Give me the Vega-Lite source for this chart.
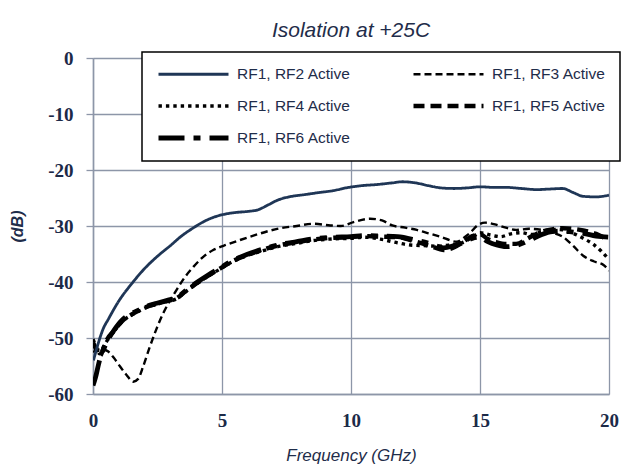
{
  "$schema": "https://vega.github.io/schema/vega-lite/v6.json",
  "autosize": "none",
  "width": 516,
  "height": 336,
  "padding": {"left": 93, "top": 58, "right": 23, "bottom": 74},
  "background": "white",
  "title": {
    "text": "Isolation at +25C",
    "font": "Liberation Sans",
    "fontSize": 21,
    "fontStyle": "italic",
    "fontWeight": "normal",
    "color": "#1f2d4a",
    "anchor": "middle",
    "offset": 8
  },
  "data": {
    "values": [
      {"f": 0.02, "s": "RF1, RF2 Active", "db": -54},
      {"f": 0.2, "s": "RF1, RF2 Active", "db": -51},
      {"f": 0.4, "s": "RF1, RF2 Active", "db": -48.3},
      {"f": 0.6, "s": "RF1, RF2 Active", "db": -46.6},
      {"f": 1.0, "s": "RF1, RF2 Active", "db": -43.4},
      {"f": 1.5, "s": "RF1, RF2 Active", "db": -40.3},
      {"f": 2.0, "s": "RF1, RF2 Active", "db": -37.6},
      {"f": 2.6, "s": "RF1, RF2 Active", "db": -35},
      {"f": 3.0, "s": "RF1, RF2 Active", "db": -33.5},
      {"f": 3.4, "s": "RF1, RF2 Active", "db": -31.9},
      {"f": 3.9, "s": "RF1, RF2 Active", "db": -30.3},
      {"f": 4.3, "s": "RF1, RF2 Active", "db": -29.2},
      {"f": 4.7, "s": "RF1, RF2 Active", "db": -28.4},
      {"f": 5.0, "s": "RF1, RF2 Active", "db": -28.0},
      {"f": 5.5, "s": "RF1, RF2 Active", "db": -27.6},
      {"f": 6.0, "s": "RF1, RF2 Active", "db": -27.4},
      {"f": 6.4, "s": "RF1, RF2 Active", "db": -27.1},
      {"f": 6.8, "s": "RF1, RF2 Active", "db": -26.2},
      {"f": 7.2, "s": "RF1, RF2 Active", "db": -25.3},
      {"f": 7.6, "s": "RF1, RF2 Active", "db": -24.8},
      {"f": 8.2, "s": "RF1, RF2 Active", "db": -24.4},
      {"f": 8.8, "s": "RF1, RF2 Active", "db": -24.0},
      {"f": 9.3, "s": "RF1, RF2 Active", "db": -23.7},
      {"f": 9.8, "s": "RF1, RF2 Active", "db": -23.2},
      {"f": 10.4, "s": "RF1, RF2 Active", "db": -22.8},
      {"f": 11.0, "s": "RF1, RF2 Active", "db": -22.6},
      {"f": 11.6, "s": "RF1, RF2 Active", "db": -22.3},
      {"f": 12.0, "s": "RF1, RF2 Active", "db": -22.1},
      {"f": 12.5, "s": "RF1, RF2 Active", "db": -22.3},
      {"f": 13.0, "s": "RF1, RF2 Active", "db": -22.8},
      {"f": 13.5, "s": "RF1, RF2 Active", "db": -23.2},
      {"f": 14.0, "s": "RF1, RF2 Active", "db": -23.3},
      {"f": 14.5, "s": "RF1, RF2 Active", "db": -23.2},
      {"f": 15.0, "s": "RF1, RF2 Active", "db": -23.0},
      {"f": 15.5, "s": "RF1, RF2 Active", "db": -23.1},
      {"f": 16.0, "s": "RF1, RF2 Active", "db": -23.1},
      {"f": 16.6, "s": "RF1, RF2 Active", "db": -23.3},
      {"f": 17.2, "s": "RF1, RF2 Active", "db": -23.5},
      {"f": 17.7, "s": "RF1, RF2 Active", "db": -23.4},
      {"f": 18.2, "s": "RF1, RF2 Active", "db": -23.3},
      {"f": 18.6, "s": "RF1, RF2 Active", "db": -24.0},
      {"f": 19.0, "s": "RF1, RF2 Active", "db": -24.7},
      {"f": 19.5, "s": "RF1, RF2 Active", "db": -24.8},
      {"f": 20.0, "s": "RF1, RF2 Active", "db": -24.5},

      {"f": 0.0, "s": "RF1, RF3 Active", "db": -52.5},
      {"f": 0.3, "s": "RF1, RF3 Active", "db": -52.0},
      {"f": 0.55, "s": "RF1, RF3 Active", "db": -52.3},
      {"f": 0.8, "s": "RF1, RF3 Active", "db": -53.5},
      {"f": 1.05, "s": "RF1, RF3 Active", "db": -55.1},
      {"f": 1.3, "s": "RF1, RF3 Active", "db": -56.6},
      {"f": 1.56, "s": "RF1, RF3 Active", "db": -57.8},
      {"f": 1.75, "s": "RF1, RF3 Active", "db": -57.3},
      {"f": 1.95, "s": "RF1, RF3 Active", "db": -55.0},
      {"f": 2.2, "s": "RF1, RF3 Active", "db": -51.6},
      {"f": 2.45, "s": "RF1, RF3 Active", "db": -48.5},
      {"f": 2.72, "s": "RF1, RF3 Active", "db": -45.6},
      {"f": 3.0, "s": "RF1, RF3 Active", "db": -43.2},
      {"f": 3.24, "s": "RF1, RF3 Active", "db": -41.4},
      {"f": 3.55, "s": "RF1, RF3 Active", "db": -39.2},
      {"f": 3.89, "s": "RF1, RF3 Active", "db": -37.3},
      {"f": 4.25, "s": "RF1, RF3 Active", "db": -35.6},
      {"f": 4.66, "s": "RF1, RF3 Active", "db": -34.3},
      {"f": 5.2, "s": "RF1, RF3 Active", "db": -33.3},
      {"f": 5.7, "s": "RF1, RF3 Active", "db": -32.5},
      {"f": 6.3, "s": "RF1, RF3 Active", "db": -31.6},
      {"f": 6.8, "s": "RF1, RF3 Active", "db": -30.9},
      {"f": 7.25, "s": "RF1, RF3 Active", "db": -30.4},
      {"f": 7.9, "s": "RF1, RF3 Active", "db": -30.0},
      {"f": 8.54, "s": "RF1, RF3 Active", "db": -29.6},
      {"f": 9.2, "s": "RF1, RF3 Active", "db": -29.9},
      {"f": 9.6, "s": "RF1, RF3 Active", "db": -30.0},
      {"f": 10.1, "s": "RF1, RF3 Active", "db": -29.3},
      {"f": 10.74, "s": "RF1, RF3 Active", "db": -28.7},
      {"f": 11.2, "s": "RF1, RF3 Active", "db": -29.0},
      {"f": 11.6, "s": "RF1, RF3 Active", "db": -29.9},
      {"f": 12.1, "s": "RF1, RF3 Active", "db": -30.3},
      {"f": 12.55, "s": "RF1, RF3 Active", "db": -30.7},
      {"f": 13.0, "s": "RF1, RF3 Active", "db": -31.3},
      {"f": 13.45, "s": "RF1, RF3 Active", "db": -31.9},
      {"f": 14.1, "s": "RF1, RF3 Active", "db": -32.8},
      {"f": 14.4, "s": "RF1, RF3 Active", "db": -32.0},
      {"f": 14.6, "s": "RF1, RF3 Active", "db": -31.3},
      {"f": 14.9, "s": "RF1, RF3 Active", "db": -29.9},
      {"f": 15.2, "s": "RF1, RF3 Active", "db": -29.4},
      {"f": 15.65, "s": "RF1, RF3 Active", "db": -29.8},
      {"f": 16.0, "s": "RF1, RF3 Active", "db": -30.3},
      {"f": 16.4, "s": "RF1, RF3 Active", "db": -30.7},
      {"f": 16.9, "s": "RF1, RF3 Active", "db": -30.5},
      {"f": 17.4, "s": "RF1, RF3 Active", "db": -30.7},
      {"f": 17.8, "s": "RF1, RF3 Active", "db": -31.2},
      {"f": 18.2, "s": "RF1, RF3 Active", "db": -31.9},
      {"f": 18.6, "s": "RF1, RF3 Active", "db": -33.5},
      {"f": 19.0, "s": "RF1, RF3 Active", "db": -35.3},
      {"f": 19.4, "s": "RF1, RF3 Active", "db": -36.3},
      {"f": 19.8, "s": "RF1, RF3 Active", "db": -37.0},
      {"f": 20.0, "s": "RF1, RF3 Active", "db": -38.0},

      {"f": 0.0, "s": "RF1, RF4 Active", "db": -50.2},
      {"f": 0.12, "s": "RF1, RF4 Active", "db": -51.5},
      {"f": 0.25, "s": "RF1, RF4 Active", "db": -52.8},
      {"f": 0.4, "s": "RF1, RF4 Active", "db": -51.6},
      {"f": 0.53, "s": "RF1, RF4 Active", "db": -50.6},
      {"f": 0.8, "s": "RF1, RF4 Active", "db": -48.9},
      {"f": 1.17, "s": "RF1, RF4 Active", "db": -46.9},
      {"f": 1.5, "s": "RF1, RF4 Active", "db": -45.9},
      {"f": 1.82, "s": "RF1, RF4 Active", "db": -45.1},
      {"f": 2.1, "s": "RF1, RF4 Active", "db": -44.5},
      {"f": 2.47, "s": "RF1, RF4 Active", "db": -44.0},
      {"f": 2.85, "s": "RF1, RF4 Active", "db": -43.5},
      {"f": 3.24, "s": "RF1, RF4 Active", "db": -43.0},
      {"f": 3.6, "s": "RF1, RF4 Active", "db": -41.7},
      {"f": 4.02, "s": "RF1, RF4 Active", "db": -40.3},
      {"f": 4.45, "s": "RF1, RF4 Active", "db": -39.0},
      {"f": 4.92, "s": "RF1, RF4 Active", "db": -37.7},
      {"f": 5.4, "s": "RF1, RF4 Active", "db": -36.4},
      {"f": 5.96, "s": "RF1, RF4 Active", "db": -35.3},
      {"f": 6.6, "s": "RF1, RF4 Active", "db": -34.4},
      {"f": 7.25, "s": "RF1, RF4 Active", "db": -33.6},
      {"f": 7.9, "s": "RF1, RF4 Active", "db": -33.1},
      {"f": 8.54, "s": "RF1, RF4 Active", "db": -32.6},
      {"f": 9.3, "s": "RF1, RF4 Active", "db": -32.3},
      {"f": 10.0, "s": "RF1, RF4 Active", "db": -32.2},
      {"f": 10.5, "s": "RF1, RF4 Active", "db": -32.0},
      {"f": 11.2, "s": "RF1, RF4 Active", "db": -32.4},
      {"f": 11.8, "s": "RF1, RF4 Active", "db": -33.0},
      {"f": 12.3, "s": "RF1, RF4 Active", "db": -33.4},
      {"f": 12.8, "s": "RF1, RF4 Active", "db": -33.5},
      {"f": 13.3, "s": "RF1, RF4 Active", "db": -33.6},
      {"f": 13.8, "s": "RF1, RF4 Active", "db": -33.4},
      {"f": 14.3, "s": "RF1, RF4 Active", "db": -33.0},
      {"f": 14.7, "s": "RF1, RF4 Active", "db": -32.0},
      {"f": 15.0, "s": "RF1, RF4 Active", "db": -31.2},
      {"f": 15.4, "s": "RF1, RF4 Active", "db": -31.6},
      {"f": 15.8, "s": "RF1, RF4 Active", "db": -31.9},
      {"f": 16.2, "s": "RF1, RF4 Active", "db": -31.4},
      {"f": 16.6, "s": "RF1, RF4 Active", "db": -31.2},
      {"f": 17.0, "s": "RF1, RF4 Active", "db": -31.5},
      {"f": 17.4, "s": "RF1, RF4 Active", "db": -31.0},
      {"f": 17.8, "s": "RF1, RF4 Active", "db": -30.6},
      {"f": 18.2, "s": "RF1, RF4 Active", "db": -30.7},
      {"f": 18.6, "s": "RF1, RF4 Active", "db": -31.3},
      {"f": 19.0, "s": "RF1, RF4 Active", "db": -32.2},
      {"f": 19.4, "s": "RF1, RF4 Active", "db": -33.3},
      {"f": 19.7, "s": "RF1, RF4 Active", "db": -34.5},
      {"f": 20.0, "s": "RF1, RF4 Active", "db": -36.0},

      {"f": 0.0, "s": "RF1, RF5 Active", "db": -50.8},
      {"f": 0.12, "s": "RF1, RF5 Active", "db": -52.0},
      {"f": 0.25, "s": "RF1, RF5 Active", "db": -53.3},
      {"f": 0.4, "s": "RF1, RF5 Active", "db": -52.0},
      {"f": 0.53, "s": "RF1, RF5 Active", "db": -50.4},
      {"f": 0.8, "s": "RF1, RF5 Active", "db": -48.8},
      {"f": 1.17, "s": "RF1, RF5 Active", "db": -46.8},
      {"f": 1.5, "s": "RF1, RF5 Active", "db": -45.8},
      {"f": 1.82, "s": "RF1, RF5 Active", "db": -45.0},
      {"f": 2.1, "s": "RF1, RF5 Active", "db": -44.4},
      {"f": 2.47, "s": "RF1, RF5 Active", "db": -43.9},
      {"f": 2.85, "s": "RF1, RF5 Active", "db": -43.4},
      {"f": 3.24, "s": "RF1, RF5 Active", "db": -42.9},
      {"f": 3.6, "s": "RF1, RF5 Active", "db": -41.6},
      {"f": 4.02, "s": "RF1, RF5 Active", "db": -40.2},
      {"f": 4.45, "s": "RF1, RF5 Active", "db": -38.9},
      {"f": 4.92, "s": "RF1, RF5 Active", "db": -37.6},
      {"f": 5.4, "s": "RF1, RF5 Active", "db": -36.3},
      {"f": 5.96, "s": "RF1, RF5 Active", "db": -35.2},
      {"f": 6.6, "s": "RF1, RF5 Active", "db": -34.2},
      {"f": 7.25, "s": "RF1, RF5 Active", "db": -33.4},
      {"f": 7.9, "s": "RF1, RF5 Active", "db": -32.9},
      {"f": 8.54, "s": "RF1, RF5 Active", "db": -32.4},
      {"f": 9.3, "s": "RF1, RF5 Active", "db": -32.1},
      {"f": 10.0, "s": "RF1, RF5 Active", "db": -32.0},
      {"f": 10.5, "s": "RF1, RF5 Active", "db": -31.8},
      {"f": 11.2, "s": "RF1, RF5 Active", "db": -31.9},
      {"f": 11.8, "s": "RF1, RF5 Active", "db": -32.0},
      {"f": 12.5, "s": "RF1, RF5 Active", "db": -32.8},
      {"f": 13.1, "s": "RF1, RF5 Active", "db": -33.6},
      {"f": 13.6, "s": "RF1, RF5 Active", "db": -34.3},
      {"f": 14.0, "s": "RF1, RF5 Active", "db": -33.8},
      {"f": 14.35, "s": "RF1, RF5 Active", "db": -32.8},
      {"f": 14.7, "s": "RF1, RF5 Active", "db": -31.8},
      {"f": 15.0, "s": "RF1, RF5 Active", "db": -31.5},
      {"f": 15.3, "s": "RF1, RF5 Active", "db": -32.3},
      {"f": 15.65, "s": "RF1, RF5 Active", "db": -32.9},
      {"f": 16.0, "s": "RF1, RF5 Active", "db": -33.2},
      {"f": 16.4, "s": "RF1, RF5 Active", "db": -33.2},
      {"f": 16.9, "s": "RF1, RF5 Active", "db": -32.1},
      {"f": 17.4, "s": "RF1, RF5 Active", "db": -31.0},
      {"f": 17.8, "s": "RF1, RF5 Active", "db": -30.6},
      {"f": 18.2, "s": "RF1, RF5 Active", "db": -30.4},
      {"f": 18.6, "s": "RF1, RF5 Active", "db": -30.5},
      {"f": 19.0, "s": "RF1, RF5 Active", "db": -30.8},
      {"f": 19.5, "s": "RF1, RF5 Active", "db": -31.4},
      {"f": 20.0, "s": "RF1, RF5 Active", "db": -32.6},

      {"f": 0.0, "s": "RF1, RF6 Active", "db": -58.5},
      {"f": 0.1, "s": "RF1, RF6 Active", "db": -57.0},
      {"f": 0.2, "s": "RF1, RF6 Active", "db": -55.0},
      {"f": 0.3, "s": "RF1, RF6 Active", "db": -53.2},
      {"f": 0.45, "s": "RF1, RF6 Active", "db": -51.6},
      {"f": 0.6, "s": "RF1, RF6 Active", "db": -50.2},
      {"f": 0.8, "s": "RF1, RF6 Active", "db": -48.7},
      {"f": 1.17, "s": "RF1, RF6 Active", "db": -46.6},
      {"f": 1.5, "s": "RF1, RF6 Active", "db": -45.6},
      {"f": 1.82, "s": "RF1, RF6 Active", "db": -44.9},
      {"f": 2.1, "s": "RF1, RF6 Active", "db": -44.3},
      {"f": 2.47, "s": "RF1, RF6 Active", "db": -43.8},
      {"f": 2.85, "s": "RF1, RF6 Active", "db": -43.3},
      {"f": 3.24, "s": "RF1, RF6 Active", "db": -42.8},
      {"f": 3.6, "s": "RF1, RF6 Active", "db": -41.5},
      {"f": 4.02, "s": "RF1, RF6 Active", "db": -40.1},
      {"f": 4.45, "s": "RF1, RF6 Active", "db": -38.8},
      {"f": 4.92, "s": "RF1, RF6 Active", "db": -37.5},
      {"f": 5.4, "s": "RF1, RF6 Active", "db": -36.2},
      {"f": 5.96, "s": "RF1, RF6 Active", "db": -35.1},
      {"f": 6.6, "s": "RF1, RF6 Active", "db": -34.1},
      {"f": 7.25, "s": "RF1, RF6 Active", "db": -33.3},
      {"f": 7.9, "s": "RF1, RF6 Active", "db": -32.8},
      {"f": 8.54, "s": "RF1, RF6 Active", "db": -32.3},
      {"f": 9.3, "s": "RF1, RF6 Active", "db": -32.0},
      {"f": 10.0, "s": "RF1, RF6 Active", "db": -31.9},
      {"f": 10.5, "s": "RF1, RF6 Active", "db": -31.7},
      {"f": 11.2, "s": "RF1, RF6 Active", "db": -31.8},
      {"f": 11.8, "s": "RF1, RF6 Active", "db": -31.9},
      {"f": 12.5, "s": "RF1, RF6 Active", "db": -32.5},
      {"f": 13.1, "s": "RF1, RF6 Active", "db": -33.2},
      {"f": 13.6, "s": "RF1, RF6 Active", "db": -33.9},
      {"f": 14.0, "s": "RF1, RF6 Active", "db": -33.5},
      {"f": 14.35, "s": "RF1, RF6 Active", "db": -33.0},
      {"f": 14.7, "s": "RF1, RF6 Active", "db": -32.2},
      {"f": 15.0, "s": "RF1, RF6 Active", "db": -32.0},
      {"f": 15.3, "s": "RF1, RF6 Active", "db": -32.8},
      {"f": 15.65, "s": "RF1, RF6 Active", "db": -33.4},
      {"f": 16.0, "s": "RF1, RF6 Active", "db": -33.7},
      {"f": 16.4, "s": "RF1, RF6 Active", "db": -33.5},
      {"f": 16.9, "s": "RF1, RF6 Active", "db": -32.6},
      {"f": 17.4, "s": "RF1, RF6 Active", "db": -31.5},
      {"f": 17.8, "s": "RF1, RF6 Active", "db": -31.0},
      {"f": 18.2, "s": "RF1, RF6 Active", "db": -30.9},
      {"f": 18.6, "s": "RF1, RF6 Active", "db": -31.1},
      {"f": 19.0, "s": "RF1, RF6 Active", "db": -31.3},
      {"f": 19.5, "s": "RF1, RF6 Active", "db": -31.8},
      {"f": 20.0, "s": "RF1, RF6 Active", "db": -32.0}
    ]
  },
  "encoding": {
    "x": {
      "field": "f",
      "type": "quantitative",
      "scale": {"domain": [0, 20], "nice": false},
      "axis": {
        "title": "Frequency (GHz)",
        "values": [0, 5, 10, 15, 20],
        "grid": true,
        "gridColor": "#8d96a8",
        "gridWidth": 1.3,
        "gridOpacity": 1,
        "domain": true,
        "domainColor": "#8d96a8",
        "domainWidth": 1.5,
        "ticks": false,
        "labelPadding": 17,
        "labelFont": "Liberation Serif",
        "labelFontWeight": "bold",
        "labelFontSize": 19,
        "labelColor": "#1c2a48",
        "labelFlush": false,
        "titleFont": "Liberation Sans",
        "titleFontSize": 17,
        "titleFontStyle": "italic",
        "titleFontWeight": "normal",
        "titleColor": "#1f2d4a",
        "titlePadding": 17
      }
    },
    "y": {
      "field": "db",
      "type": "quantitative",
      "scale": {"domain": [-60, 0], "nice": false},
      "axis": {
        "title": "(dB)",
        "values": [0, -10, -20, -30, -40, -50, -60],
        "labelExpr": "'' + datum.value",
        "grid": true,
        "gridColor": "#8d96a8",
        "gridWidth": 1.3,
        "gridOpacity": 1,
        "domainColor": "#8d96a8",
        "domainWidth": 1.5,
        "tickColor": "#8d96a8",
        "tickSize": 7,
        "tickWidth": 1.3,
        "labelPadding": 13,
        "labelFont": "Liberation Serif",
        "labelFontWeight": "bold",
        "labelFontSize": 19,
        "labelColor": "#1c2a48",
        "labelFlush": false,
        "titleFont": "Liberation Sans",
        "titleFontSize": 16,
        "titleFontStyle": "italic",
        "titleFontWeight": "bold",
        "titleColor": "#1f2d4a",
        "titlePadding": 22
      }
    },
    "color": {
      "field": "s",
      "type": "nominal",
      "scale": {
        "domain": ["RF1, RF2 Active", "RF1, RF3 Active", "RF1, RF4 Active", "RF1, RF5 Active", "RF1, RF6 Active"],
        "range": ["#1f3656", "#000000", "#000000", "#000000", "#000000"]
      },
      "legend": {
        "title": null,
        "orient": "none",
        "legendX": 49,
        "legendY": -6,
        "columns": 2,
        "direction": "horizontal",
        "symbolType": "stroke",
        "symbolSize": 4900,
        "symbolStrokeWidth": {"expr": "((datum && datum.value === 'RF1, RF2 Active') ? 2.8 : ((datum && datum.value === 'RF1, RF3 Active') ? 2.4 : ((datum && datum.value === 'RF1, RF4 Active') ? 3.4 : ((datum && datum.value === 'RF1, RF5 Active') ? 4.4 : 4.8))))"},
        "clipHeight": 16,
        "padding": 14,
        "rowPadding": 15,
        "columnPadding": 60,
        "labelFont": "Liberation Sans",
        "labelFontSize": 15.5,
        "labelColor": "#1f2d4a",
        "labelOffset": 6,
        "labelLimit": 200,
        "fillColor": "white",
        "strokeColor": "black"
      }
    },
    "strokeDash": {
      "field": "s",
      "type": "nominal",
      "scale": {
        "domain": ["RF1, RF2 Active", "RF1, RF3 Active", "RF1, RF4 Active", "RF1, RF5 Active", "RF1, RF6 Active"],
        "range": [[1, 0], [7, 4], [3.4, 4], [11, 6], [26, 9, 7, 9]]
      }
    }
  },
  "layer": [
    {
      "transform": [{"filter": "datum.s === 'RF1, RF6 Active'"}],
      "mark": {"type": "line", "strokeWidth": 4.8, "strokeJoin": "round", "interpolate": "monotone", "clip": true}
    },
    {
      "transform": [{"filter": "datum.s === 'RF1, RF5 Active'"}],
      "mark": {"type": "line", "strokeWidth": 4.4, "strokeJoin": "round", "interpolate": "monotone", "clip": true}
    },
    {
      "transform": [{"filter": "datum.s === 'RF1, RF4 Active'"}],
      "mark": {"type": "line", "strokeWidth": 3.4, "strokeJoin": "round", "interpolate": "monotone", "clip": true}
    },
    {
      "transform": [{"filter": "datum.s === 'RF1, RF3 Active'"}],
      "mark": {"type": "line", "strokeWidth": 2.4, "strokeJoin": "round", "interpolate": "monotone", "clip": true}
    },
    {
      "transform": [{"filter": "datum.s === 'RF1, RF2 Active'"}],
      "mark": {"type": "line", "strokeWidth": 2.8, "strokeJoin": "round", "interpolate": "monotone", "clip": true}
    }
  ],
  "config": {
    "view": {"stroke": null},
    "legend": {"strokeWidth": 1.5}
  }
}
